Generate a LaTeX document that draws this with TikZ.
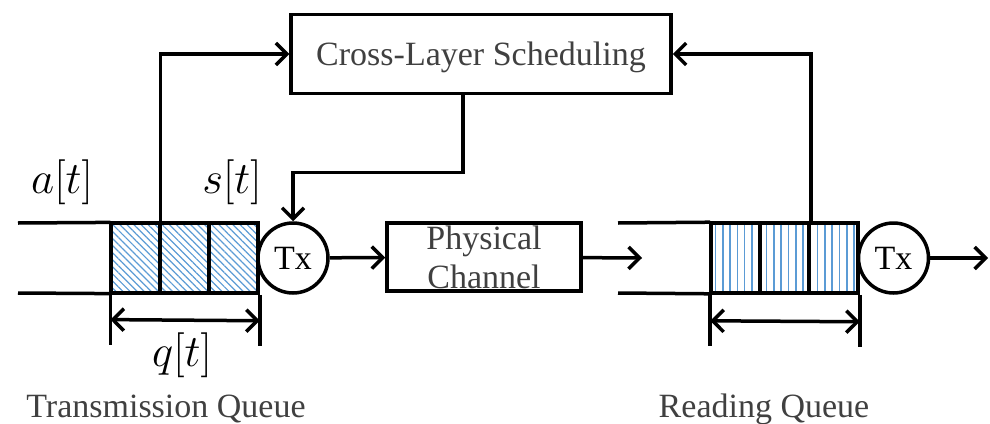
\RequirePackage{fix-cm}
\documentclass[tikz,border=0pt]{standalone}
\usepackage{amsmath}
\usepackage{fontspec}
\setmainfont{Liberation Serif}
\usetikzlibrary{arrows.meta,patterns.meta}

\definecolor{hatchblue}{RGB}{91,155,213}
\definecolor{labelgray}{RGB}{64,64,64}

\begin{document}
\begin{tikzpicture}[x=1pt,y=-1pt,line width=3.5pt,
		>={Straight Barb[length=11pt,width=22pt]},
		box/.style={draw,rectangle,inner sep=0pt,text=labelgray,font=\fontsize{34}{39}\selectfont},
		txnode/.style={draw,circle,minimum size=70pt,inner sep=0pt,font=\fontsize{34}{39}\selectfont},
		txcell/.style={draw,rectangle,minimum width=49pt,minimum height=70pt,inner sep=0pt,
			pattern={Lines[angle=-45,distance=5pt,line width=1.2pt]},pattern color=hatchblue},
		rxcell/.style={draw,rectangle,minimum width=49pt,minimum height=70pt,inner sep=0pt,
			pattern={Lines[angle=90,distance=7.3pt,line width=1.6pt]},pattern color=hatchblue},
		mathlabel/.style={font=\fontsize{45}{52}\selectfont},
		caption/.style={text=labelgray,font=\fontsize{34}{39}\selectfont}]
	\useasboundingbox (0,0) rectangle (990,423);
	
	\node (sched) at (481,54) [box,minimum width=380pt,minimum height=79pt,text depth=0pt] {Cross-Layer Scheduling};
	\node (chan) at (484,257) [box,minimum width=194pt,minimum height=68pt,align=center] {Physical\\Channel};
	
	\node (q1) at (135.5,258) [txcell] {};
	\node (q2) at (184.5,258) [txcell] {};
	\node (q3) at (233.5,258) [txcell] {};
	\node (tx1) at (293,258) [txnode] {Tx};
	
	\node (r1) at (735.5,258) [rxcell] {};
	\node (r2) at (784.5,258) [rxcell] {};
	\node (r3) at (833.5,258) [rxcell] {};
	\node (tx2) at (893.5,258) [txnode] {Tx};
	
	\coordinate (qtop) at (18,223);
	\coordinate (qbot) at (18,293);
	\coordinate (rtop) at (618,223);
	\coordinate (rbot) at (618,293);
	\coordinate (rin) at (642,258);
	\coordinate (out) at (988,258);
	
	\draw (qtop) -- (q1.north west);
	\draw (qbot) -- (q1.south west);
	\draw (rtop) -- (r1.north west);
	\draw (rbot) -- (r1.south west);
	
	\draw[->] (tx1) -- (chan);
	\draw[->] (chan) -- (rin);
	\draw[->] (tx2) -- (out);
	\draw[->] ([xshift=-18pt]sched.south) -- ++(0,77) -| (tx1.north);
	\draw[->] (q1.north east) |- (sched.west);
	\draw[->] (r2.north east) |- (sched.east);
	
	\draw (q1.south west) -- ++(0,51);
	\draw (q3.south east) -- ++(0,51);
	\draw[<->] ([yshift=-26pt]q1.south west) -- ([yshift=-26pt]q3.south east);
	\draw (r1.south west) -- ++(0,52);
	\draw (r3.south east) -- ++(0,52);
	\draw[<->] ([yshift=-27pt]r1.south west) -- ([yshift=-27pt]r3.south east);
	
	\node (arr) at (62,182) [mathlabel] {$a[t]$};
	\node (srv) at (232,182) [mathlabel] {$s[t]$};
	\node (qlen) at (182,355) [mathlabel] {$q[t]$};
	\node (txq) at (166,409) [caption] {Transmission Queue};
	\node (rdq) at (764,409) [caption] {Reading Queue};
\end{tikzpicture}
\end{document}
